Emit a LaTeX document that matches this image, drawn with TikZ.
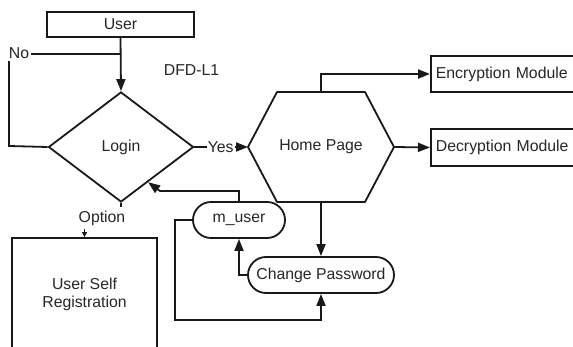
\documentclass[tikz,border=0pt]{standalone}
\usepackage{fontspec}
\setmainfont{Liberation Sans}
\usetikzlibrary{shapes.geometric,shapes.misc,arrows.meta,calc}
\begin{document}
\begin{tikzpicture}[x=1pt,y=-1pt,
  every node/.style={font=\fontsize{15.8}{18}\selectfont, text=black!85},
  ln/.style={line width=1.8pt, draw=black!90},
  arr/.style={ln, -{Triangle[length=12pt,width=9pt]}},
  smallarr/.style={ln, -{Triangle[length=5pt,width=5pt]}},
  boxnode/.style={ln, rectangle, inner sep=0pt},
  pill/.style={ln, rounded rectangle, inner sep=0pt},
  lbl/.style={fill=white, inner sep=1pt}
]
\useasboundingbox (0,0) rectangle (573,347);

% nodes
\node[boxnode, minimum width=147pt, minimum height=25pt] (user) at (120.5,24.5) {User};
\node[ln, diamond, inner sep=0pt, minimum width=145pt, minimum height=110pt] (login) at (121,147) {Login};
\node (dfd) at (191.5,70) {DFD-L1};

% hexagon Home Page
\node (home) at (321,147) {Home Page};
\coordinate (hw) at (248,147);
\coordinate (he) at (394,147);
\coordinate (hn) at (321,92);
\coordinate (hs) at (321,202);
\draw[ln, line join=round] (hw) -- (277,92) -- (365,92) -- (he) -- (365,202) -- (277,202) -- cycle;

\node[boxnode, anchor=west, minimum height=36pt, text width=140pt, inner xsep=5pt, align=left] (enc) at (430,74) {Encryption Module};
\node[boxnode, anchor=west, minimum height=37pt, text width=140pt, inner xsep=5pt, align=left] (dec) at (430,147.5) {Decryption Module};

\node[pill, minimum width=92pt, minimum height=36pt] (mu) at (239,220) {m\_user};
\node[pill, minimum width=146pt, minimum height=36pt] (cp) at (321,275) {Change Password};

\node[boxnode, minimum width=145pt, minimum height=112pt, align=center] (reg) at (84.5,294) {User Self\\Registration};

% coordinates
\coordinate (join) at (121,54);
\coordinate (nocorner) at (9,54);
\coordinate (leftcorner) at (9,146);
\coordinate (bend) at (160,191);
\coordinate (edge) at ($(login.south)!0.37!(login.east)$);
\coordinate (loopcorner) at (175,320);
\coordinate (optend) at (121,207);
\coordinate (optarr) at (84.5,229);

% connectors
\draw[arr] (user.south) -- (login.north);
\draw[ln] (login.west) -- (leftcorner) -- (nocorner) -- (join);
\node[lbl, inner sep=2pt] (no) at (19,53) {No};

\draw[arr] (login.east) -- node[lbl, pos=0.49] (yes) {Yes} (hw);
\draw[arr] (hn) |- (enc.west);
\draw[arr] (he) -- (dec.west);
\draw[arr] (hs) -- (cp.north);
\draw[arr] (cp.west) -| (mu.south);
\draw[arr] (mu.north) |- (bend) -- (edge);
\draw[arr] (mu.west) -| (loopcorner) -| (cp.south);

\draw[ln] (login.south) -- (optend);
\node (opt) at (102,218) {Option};
\draw[smallarr] (optarr) -- (reg.north);
\end{tikzpicture}
\end{document}
